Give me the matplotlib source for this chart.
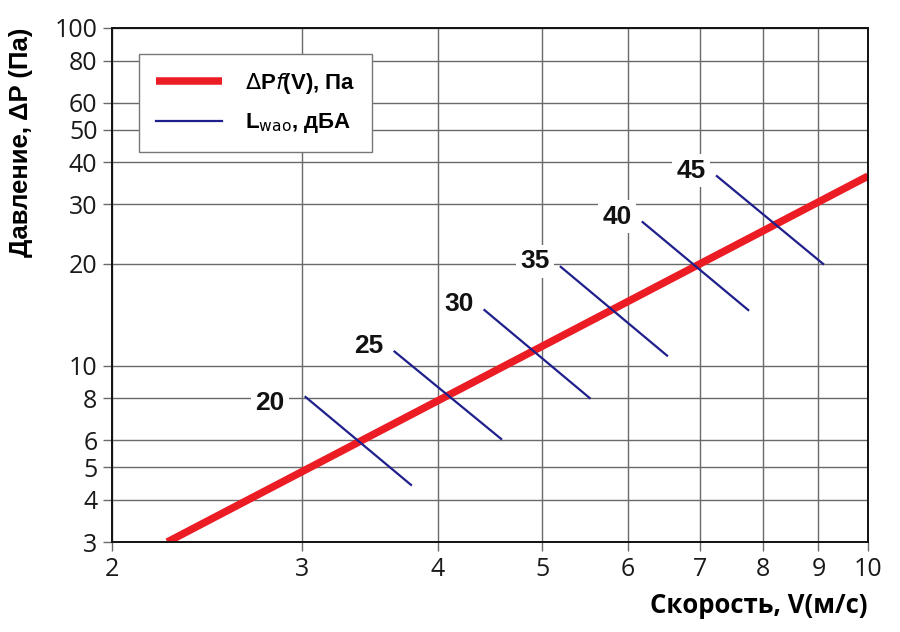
import numpy as np
import matplotlib.pyplot as plt
from matplotlib.ticker import NullLocator

# pressure curve (log-log straight line)
speed_line = [2.25, 10.0]
dp_line = [3.0, 36.4]

# noise level segments, dBA
levels = [20, 25, 30, 35, 40, 45]
seg_v_start = [3.02, 3.65, 4.42, 5.20, 6.19, 7.25]
seg_p_start = [8.07, 11.0, 14.6, 19.6, 26.6, 36.4]
seg_v_end = [3.78, 4.58, 5.53, 6.52, 7.75, 9.09]
seg_p_end = [4.43, 6.06, 8.01, 10.7, 14.6, 20.0]

x_ticks = [2, 3, 4, 5, 6, 7, 8, 9, 10]
y_ticks = [3, 4, 5, 6, 8, 10, 20, 30, 40, 50, 60, 80, 100]

RED = '#ec1c24'
BLUE = '#1f1f8c'
GRID = '#6a6a6a'

plt.rcParams['font.family'] = ['Open Sans', 'DejaVu Sans']

fig = plt.figure(figsize=(9, 6.32), dpi=100)
ax = fig.add_axes([0.1244, 0.1424, 0.84, 0.8133])
ax.set_xscale('log')
ax.set_yscale('log')
ax.set_xlim(2, 10)
ax.set_ylim(3, 100)

ax.set_xticks(x_ticks, labels=[str(t) for t in x_ticks])
ax.set_yticks(y_ticks, labels=[str(t) for t in y_ticks])
ax.xaxis.set_minor_locator(NullLocator())
ax.yaxis.set_minor_locator(NullLocator())

ax.grid(True, color=GRID, linewidth=1.0, zorder=0)
ax.tick_params(direction='out', length=6.5, width=1.0, color=GRID,
               labelcolor='#1a1a1a')
ax.tick_params(axis='x', pad=4)
ax.tick_params(axis='y', pad=4)

# force the tick label size after everything is set up
fig.canvas.draw()
for lab in ax.get_xticklabels() + ax.get_yticklabels():
    lab.set_fontsize(18)

for sp in ax.spines.values():
    sp.set_linewidth(1.4)
    sp.set_color('#111111')
    sp.set_zorder(5)

ax.plot(speed_line, dp_line, color=RED, linewidth=5.4, solid_capstyle='butt',
        zorder=3, label=r'$\Delta$P$\mathit{f}$(V), Па')

# the "20" label sits a bit further left and lower than the others
label_offsets = [(-15, -4.5), (-8, 4), (-8, 4), (-8, 4), (-8, 4), (-8, 4)]
for i, lv in enumerate(levels):
    ax.plot([seg_v_start[i], seg_v_end[i]], [seg_p_start[i], seg_p_end[i]],
            color=BLUE, linewidth=1.6, zorder=4,
            label=r'L$_{\rm wao}$, дБА' if i == 0 else None)
    ax.annotate(str(lv), (seg_v_start[i], seg_p_start[i]),
                xytext=label_offsets[i], textcoords='offset points',
                ha='right', va='center', fontsize=19, fontweight='bold',
                family=['Liberation Sans', 'DejaVu Sans'], color='#111111',
                bbox=dict(fc='white', ec='none', pad=3), zorder=2)

leg = ax.legend(loc='upper left', bbox_to_anchor=(0.0357, 0.949),
                borderaxespad=0, fancybox=False, framealpha=1,
                edgecolor='#777777', handlelength=3.0, handletextpad=1.0,
                labelspacing=0.7, borderpad=0.75,
                prop={'family': ['Liberation Sans', 'DejaVu Sans'],
                      'weight': 'bold', 'size': 16})
leg.get_frame().set_linewidth(1.0)
leg.set_zorder(6)

ax.set_xlabel('Скорость, V(м/с)', fontsize=18.5, fontweight='bold',
              family=['Open Sans', 'DejaVu Sans'])
ax.xaxis.set_label_coords(1.0, -0.097)
ax.xaxis.label.set_horizontalalignment('right')
ax.set_ylabel('Давление, ΔP (Па)', fontsize=18.5, fontweight='bold',
              family=['Liberation Sans', 'DejaVu Sans'])
ax.yaxis.set_label_coords(-0.12, 1.0)
ax.yaxis.label.set_verticalalignment('center')
ax.yaxis.label.set_horizontalalignment('right')

fig.savefig('out.png', dpi=100)
